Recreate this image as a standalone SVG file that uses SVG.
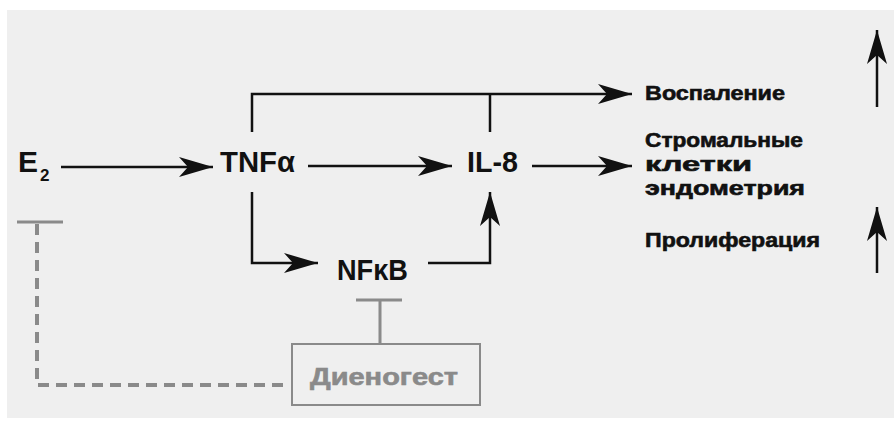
<svg xmlns="http://www.w3.org/2000/svg" width="894" height="434" viewBox="0 0 894 434">
<style>
.node{font-family:"Liberation Sans",Arial,sans-serif;font-size:30px;font-weight:bold;fill:#111}
.lbl{font-family:"Liberation Sans",Arial,sans-serif;font-weight:bold;font-size:20px;fill:#111;stroke:#111;stroke-width:0.6}
.ln{fill:none;stroke:#111;stroke-width:2.5}
.gr{fill:none;stroke:#8a8a8a;stroke-width:3}
.dash{fill:none;stroke:#8a8a8a;stroke-width:4;stroke-dasharray:11 7}
</style>
<defs>
<marker id="ah" markerUnits="userSpaceOnUse" viewBox="-35 -11 37 22" markerWidth="37" markerHeight="22" refX="0" refY="0" orient="auto">
<path d="M0,0 L-34,-10 L-25,0 L-34,10 Z" fill="#111"/>
</marker>
</defs>
<rect x="7" y="10" width="887" height="408" fill="#efefef"/>
<g id="connectors">
<path class="ln" d="M61,167 H213" marker-end="url(#ah)"/>
<path class="ln" d="M252,132 V94 H632" marker-end="url(#ah)"/>
<path class="ln" d="M490,94 V132"/>
<path class="ln" d="M308,166 H452" marker-end="url(#ah)"/>
<path class="ln" d="M532,166 H632" marker-end="url(#ah)"/>
<path class="ln" d="M252,192 V263 H318" marker-end="url(#ah)"/>
<path class="ln" d="M428,263 H490 V192" marker-end="url(#ah)"/>
<path class="ln" d="M877,107 V30" marker-end="url(#ah)"/>
<path class="ln" d="M877,273 V207" marker-end="url(#ah)"/>
<path class="gr" d="M356,300 H402 M380,300 V344"/>
<path class="gr" d="M17,222 H63"/>
<path class="dash" d="M37,224 V385 H286"/>
</g>
<g id="e2"><text class="node" x="18" y="172" textLength="20" lengthAdjust="spacingAndGlyphs">E</text><text class="node" x="40" y="181" style="font-size:17px">2</text></g>
<g id="tnfa"><text class="node" x="220" y="172" textLength="75" lengthAdjust="spacingAndGlyphs">TNFα</text></g>
<g id="il8"><text class="node" x="467" y="172" textLength="51" lengthAdjust="spacingAndGlyphs">IL-8</text></g>
<g id="nfkb"><text class="node" x="337" y="280" textLength="71" lengthAdjust="spacingAndGlyphs">NFκB</text></g>
<g id="dienogest">
<rect x="292" y="344" width="188" height="61" fill="none" stroke="#8a8a8a" stroke-width="2"/>
<text x="310" y="385" textLength="148" lengthAdjust="spacingAndGlyphs" style="font-family:'Liberation Sans',Arial,sans-serif;font-weight:bold;font-size:24px;fill:#8a8a8a;stroke:#8a8a8a;stroke-width:0.6">Диеногест</text>
</g>
<g id="vospalenie"><text class="lbl" x="645" y="100" textLength="140" lengthAdjust="spacingAndGlyphs">Воспаление</text></g>
<g id="stroma">
<text class="lbl" x="645" y="147" textLength="158" lengthAdjust="spacingAndGlyphs">Стромальные</text>
<text class="lbl" x="645" y="171" textLength="107" lengthAdjust="spacingAndGlyphs">клетки</text>
<text class="lbl" x="645" y="195" textLength="160" lengthAdjust="spacingAndGlyphs">эндометрия</text>
</g>
<g id="prolif"><text class="lbl" x="645" y="247" textLength="175" lengthAdjust="spacingAndGlyphs">Пролиферация</text></g>
</svg>
